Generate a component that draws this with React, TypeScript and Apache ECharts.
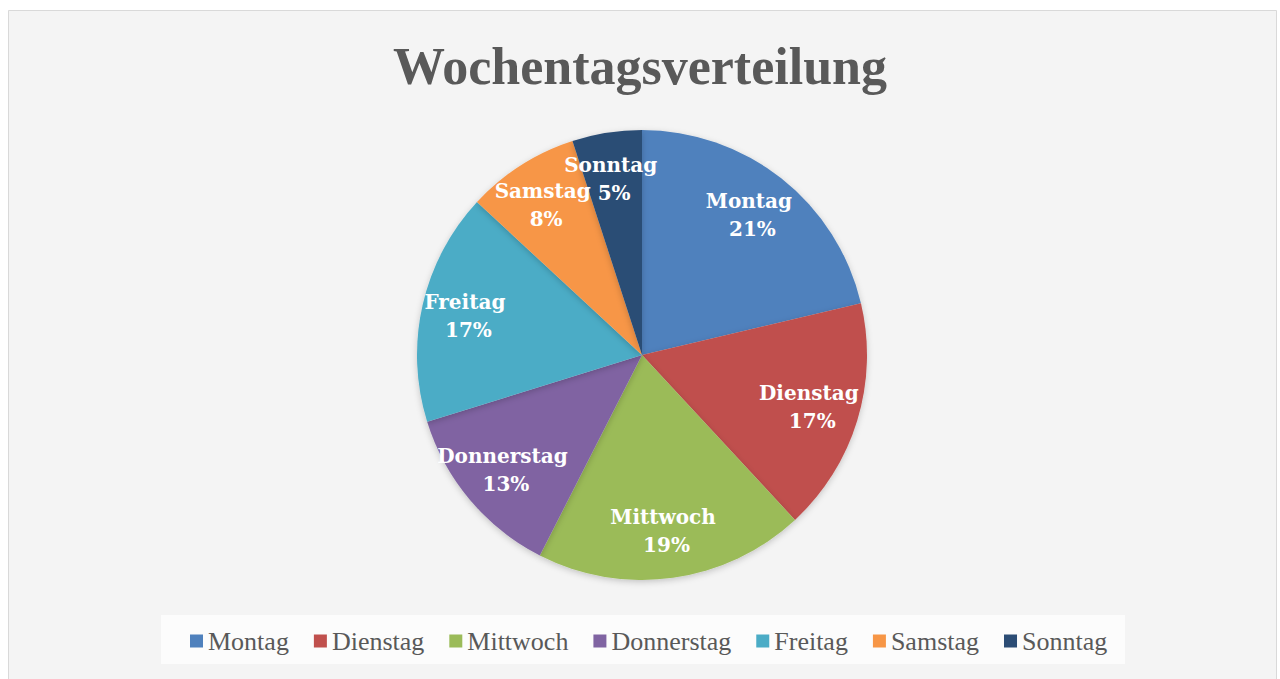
import React, { useEffect, useRef } from "react";
import * as echarts from "echarts";

const titleText = "Wochentagsverteilung";
const days = ["Montag", "Dienstag", "Mittwoch", "Donnerstag", "Freitag", "Samstag", "Sonntag"];
const shares = [21.3, 16.8, 19.4, 12.7, 16.7, 8.1, 5.0];
const colors = ["#4f81bd", "#c0504d", "#9bbb59", "#8064a2", "#4bacc6", "#f79646", "#2c4d75"];

const FONT = "'Liberation Serif', 'DejaVu Serif', serif";
const LABEL_FONT = "'DejaVu Serif', serif";

export default function App() {
  const ref = useRef<HTMLDivElement>(null);
  useEffect(() => {
    document.body.style.margin = "0";
    const chart = echarts.init(ref.current!, undefined, { renderer: "svg" });
    const data = days.map((d, i) => ({ name: d, value: shares[i], itemStyle: { color: colors[i] } }));
    chart.setOption({
      animation: false,
      backgroundColor: "#ffffff",
      title: {
        text: titleText,
        left: "center",
        top: 35,
        textStyle: { fontFamily: FONT, fontWeight: "bold", fontSize: 52, color: "#595959" },
      },
      graphic: [
        {
          type: "rect",
          z: -10,
          shape: { x: 8.5, y: 10.5, width: 1268, height: 680 },
          style: { fill: "#f4f4f4", stroke: "#d9d9d9", lineWidth: 1 },
        },
        {
          type: "rect",
          z: -5,
          shape: { x: 161, y: 615, width: 964, height: 49 },
          style: { fill: "#fcfcfc" },
        },
      ],
      legend: {
        bottom: 20,
        left: 185,
        icon: "rect",
        itemWidth: 13,
        itemHeight: 13,
        itemGap: 25,
        textStyle: { fontFamily: FONT, fontSize: 26, color: "#595959" },
        data: days,
      },
      series: [
        {
          type: "pie",
          center: [642, 355],
          radius: [0, 225],
          startAngle: 90,
          clockwise: true,
          label: { show: false },
          labelLine: { show: false },
          itemStyle: { shadowBlur: 6, shadowColor: "rgba(0,0,0,0.2)", shadowOffsetY: 2 },
          data,
        },
        {
          type: "pie",
          center: [642, 355],
          radius: [125, 225],
          startAngle: 90,
          clockwise: true,
          silent: true,
          legendHoverLink: false,
          avoidLabelOverlap: false,
          itemStyle: { color: "rgba(0,0,0,0)" },
          label: {
            show: true,
            position: "inside",
            fontFamily: LABEL_FONT,
            fontWeight: "bold",
            fontSize: 20,
            lineHeight: 28,
            color: "#ffffff",
            formatter: (p: any) => `${p.name}\n${Math.round(p.percent)}%`,
          },
          labelLine: { show: false },
          labelLayout: { hideOverlap: false },
          data: days.map((d, i) => ({ name: d + " ", value: shares[i] })),
        },
      ],
    });
    return () => chart.dispose();
  }, []);
  return <div ref={ref} style={{ width: 1280, height: 679 }} />;
}
